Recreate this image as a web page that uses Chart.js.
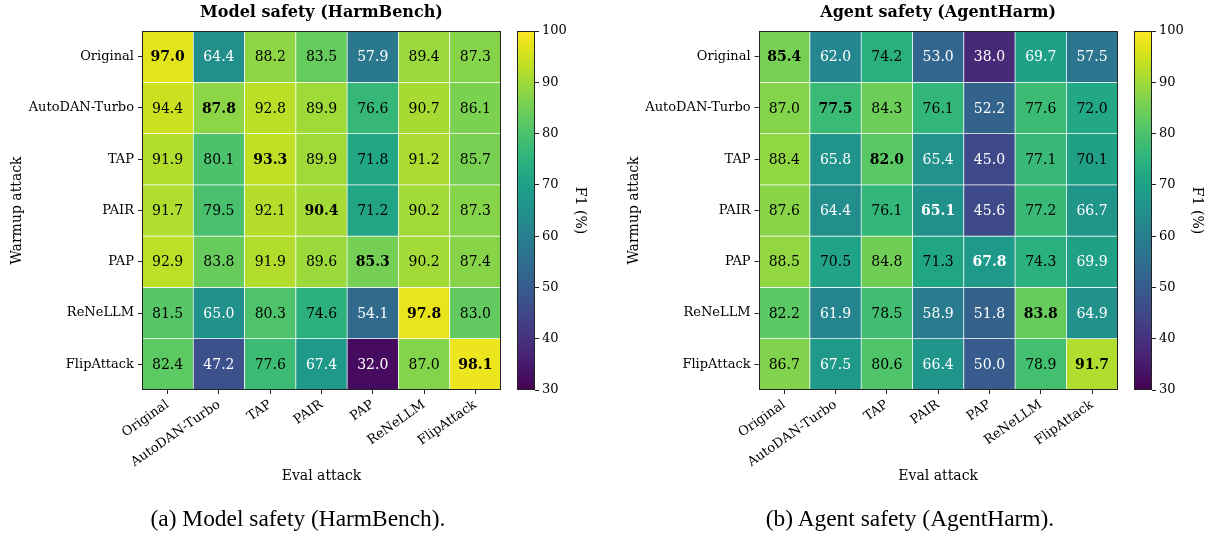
<!DOCTYPE html>
<html><head><meta charset="utf-8">
<script src="https://cdn.jsdelivr.net/npm/chart.js@4.4.1/dist/chart.umd.min.js"></script>
<style>
html,body{margin:0;padding:0;background:#fff;}
body{width:1215px;height:538px;position:relative;overflow:hidden;}
canvas{position:absolute;top:0;}
.cap{position:absolute;font-family:'Liberation Serif','Times New Roman',serif;font-size:23.4px;color:#000;white-space:nowrap;transform:translateX(-50%);top:504px;line-height:28px;}
</style></head><body>
<canvas id="hmA" width="510" height="538" style="left:0px"></canvas>
<canvas id="cbA" width="98" height="538" style="left:500px"></canvas>
<canvas id="hmB" width="520" height="538" style="left:607px"></canvas>
<canvas id="cbB" width="98" height="538" style="left:1117px"></canvas>
<div class="cap" style="left:298px">(a) Model safety (HarmBench).</div>
<div class="cap" style="left:910px">(b) Agent safety (AgentHarm).</div>
<script>
// ---- data ----
const evalAttacks = ['Original','AutoDAN-Turbo','TAP','PAIR','PAP','ReNeLLM','FlipAttack'];
const warmupAttacks = ['Original','AutoDAN-Turbo','TAP','PAIR','PAP','ReNeLLM','FlipAttack'];
const harmbenchF1 = [
  [97.0, 64.4, 88.2, 83.5, 57.9, 89.4, 87.3],
  [94.4, 87.8, 92.8, 89.9, 76.6, 90.7, 86.1],
  [91.9, 80.1, 93.3, 89.9, 71.8, 91.2, 85.7],
  [91.7, 79.5, 92.1, 90.4, 71.2, 90.2, 87.3],
  [92.9, 83.8, 91.9, 89.6, 85.3, 90.2, 87.4],
  [81.5, 65.0, 80.3, 74.6, 54.1, 97.8, 83.0],
  [82.4, 47.2, 77.6, 67.4, 32.0, 87.0, 98.1]
];
const agentharmF1 = [
  [85.4, 62.0, 74.2, 53.0, 38.0, 69.7, 57.5],
  [87.0, 77.5, 84.3, 76.1, 52.2, 77.6, 72.0],
  [88.4, 65.8, 82.0, 65.4, 45.0, 77.1, 70.1],
  [87.6, 64.4, 76.1, 65.1, 45.6, 77.2, 66.7],
  [88.5, 70.5, 84.8, 71.3, 67.8, 74.3, 69.9],
  [82.2, 61.9, 78.5, 58.9, 51.8, 83.8, 64.9],
  [86.7, 67.5, 80.6, 66.4, 50.0, 78.9, 91.7]
];
const colorRange = [30, 100];
const colorbarStep = 10;

// ---- style ----
const viridisStops = ['#440154','#471365','#482475','#463480','#414487','#3b528b','#355f8d','#2f6c8e','#2a788e','#25848e','#21918c','#1e9c89','#22a884','#2fb47c','#44bf70','#5ec962','#7ad151','#9bd93c','#bddf26','#dfe318','#fde725'];
const textThreshold = 70;
const FONT = 'DejaVu Serif';
Chart.defaults.font.family = FONT;
Chart.defaults.color = '#000';

function hexToRgb(h){ const n=parseInt(h.slice(1),16); return [(n>>16)&255,(n>>8)&255,n&255]; }
function viridis(v){
  let t = (v - colorRange[0])/(colorRange[1]-colorRange[0]);
  t = Math.max(0, Math.min(1, t));
  const p = t*(viridisStops.length-1);
  const i = Math.min(Math.floor(p), viridisStops.length-2);
  const f = p - i;
  const a = hexToRgb(viridisStops[i]), b = hexToRgb(viridisStops[i+1]);
  const c = a.map((x,k)=>Math.round(x+(b[k]-x)*f));
  return `rgb(${c[0]},${c[1]},${c[2]})`;
}

const framePlugin = {
  id:'frame',
  afterDraw(chart){
    const {ctx, chartArea:a} = chart;
    ctx.save();
    ctx.strokeStyle = '#222';
    ctx.lineWidth = 1;
    ctx.strokeRect(Math.round(a.left)+0.5, Math.round(a.top)+0.5, Math.round(a.right-a.left)-1, Math.round(a.bottom-a.top)-1);
    ctx.restore();
  }
};

const cellTextPlugin = {
  id:'cellText',
  afterDatasetsDraw(chart){
    const ctx = chart.ctx;
    chart.data.datasets.forEach((ds, r) => {
      const meta = chart.getDatasetMeta(r);
      meta.data.forEach((bar, c) => {
        const v = ds.values[c];
        const p = bar.getCenterPoint();
        ctx.save();
        ctx.font = (r === c ? 'bold ' : '') + '14px "' + FONT + '"';
        ctx.fillStyle = v < textThreshold ? '#ffffff' : '#000000';
        ctx.textAlign = 'center';
        ctx.textBaseline = 'middle';
        ctx.fillText(v.toFixed(1), p.x, p.y + 1);
        ctx.restore();
      });
    });
  }
};

function heatDatasets(matrix){
  return matrix.map((row, r) => ({
    label: warmupAttacks[r],
    data: row.map(() => [r, r + 1]),
    values: row,
    backgroundColor: row.map(v => viridis(v)),
    borderColor: '#ffffff',
    borderWidth: 0.7,
    borderSkipped: false,
    categoryPercentage: 1,
    barPercentage: 1,
    grouped: false,
    xAxisID: 'x',
    yAxisID: 'y'
  }));
}

function makeHeatmap(id, matrix, title, yAxisWidth, yTitlePad, padRight){
  new Chart(document.getElementById(id), {
    type: 'bar',
    data: { labels: evalAttacks, datasets: heatDatasets(matrix) },
    options: {
      responsive: false, animation: false, devicePixelRatio: 1,
      layout: { padding: { left: 0, right: padRight, top: 0, bottom: 48 } },
      plugins: { legend: { display: false }, tooltip: { enabled: false }, title: { display: false } },
      scales: {
        x: {
          type: 'category', position: 'bottom', offset: true,
          grid: { display: true, drawOnChartArea: false, offset: false, tickLength: 4, tickColor: '#222', tickWidth: 1 },
          border: { display: false },
          ticks: { font: { family: FONT, size: 13 }, color: '#000', minRotation: 35, maxRotation: 35, padding: 3, autoSkip: false },
          title: { display: true, text: 'Eval attack', font: { family: FONT, size: 14 }, color: '#000', padding: { top: 0, bottom: 5 } },
          afterFit: s => { s.height = 100; }
        },
        xTop: {
          type: 'category', axis: 'x', position: 'top', labels: evalAttacks, offset: true,
          grid: { display: false }, border: { display: false }, ticks: { display: false },
          title: { display: true, text: title, font: { family: FONT, size: 16, weight: 'bold' }, color: '#000', padding: { top: 3, bottom: 0 } },
          afterFit: s => { s.height = 31; }
        },
        y: { type: 'linear', min: 0, max: warmupAttacks.length, reverse: true, display: false },
        yLabels: {
          type: 'category', axis: 'y', position: 'left', labels: warmupAttacks, offset: true,
          grid: { display: true, drawOnChartArea: false, offset: false, tickLength: 4, tickColor: '#222', tickWidth: 1 },
          border: { display: false },
          ticks: { font: { family: FONT, size: 13 }, color: '#000', padding: 4, autoSkip: false },
          title: { display: true, text: 'Warmup attack', font: { family: FONT, size: 14 }, color: '#000', padding: { top: yTitlePad, bottom: 0 } },
          afterFit: s => { s.width = yAxisWidth; }
        }
      }
    },
    plugins: [cellTextPlugin, framePlugin]
  });
}

function makeColorbar(id){
  new Chart(document.getElementById(id), {
    type: 'bar',
    data: { labels: ['F1'], datasets: [{
      data: [colorRange.slice()],
      backgroundColor: (c) => {
        const chart = c.chart;
        if (!chart.chartArea) return viridisStops[0];
        const ys = chart.scales.y;
        const g = chart.ctx.createLinearGradient(0, ys.getPixelForValue(colorRange[0]), 0, ys.getPixelForValue(colorRange[1]));
        viridisStops.forEach((col, i) => g.addColorStop(i/(viridisStops.length-1), col));
        return g;
      },
      borderWidth: 0, categoryPercentage: 1, barPercentage: 1
    }]},
    options: {
      responsive: false, animation: false, devicePixelRatio: 1,
      layout: { padding: { left: 17, right: 0, top: 31, bottom: 148 } },
      plugins: { legend: { display: false }, tooltip: { enabled: false } },
      scales: {
        x: { display: false, offset: true },
        y: {
          type: 'linear', position: 'right', min: colorRange[0], max: colorRange[1],
          ticks: { stepSize: colorbarStep, padding: 3, font: { family: FONT, size: 13 }, color: '#000' },
          grid: { display: true, drawOnChartArea: false, tickLength: 4, tickColor: '#222', tickWidth: 1 },
          border: { display: false },
          title: { display: true, text: 'F1 (%)', font: { family: FONT, size: 14 }, color: '#000', padding: { top: 9.6, bottom: 0 } },
          afterFit: s => { s.width = 63; }
        }
      }
    },
    plugins: [framePlugin]
  });
}

makeHeatmap('hmA', harmbenchF1, 'Model safety (HarmBench)', 142, 8.6, 9);
makeColorbar('cbA');
makeHeatmap('hmB', agentharmF1, 'Agent safety (AgentHarm)', 151.6, 18.6, 9.3);
makeColorbar('cbB');
</script>
</body></html>
